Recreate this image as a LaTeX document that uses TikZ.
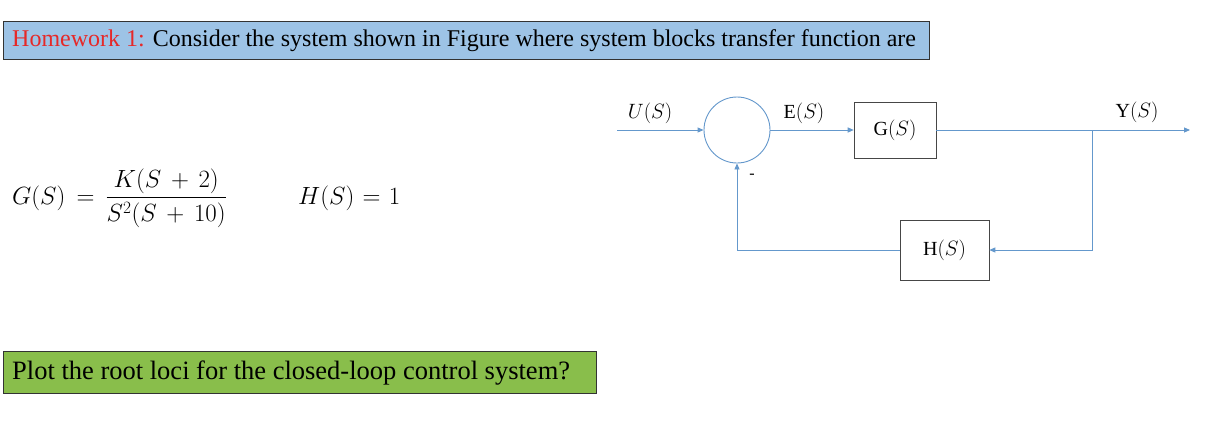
\documentclass[tikz,border=0pt]{standalone}
\usepackage{amsmath}
\usepackage{fontspec}
\setmainfont{Liberation Serif}
\usetikzlibrary{arrows.meta}
\definecolor{topblue}{RGB}{157,195,230}
\definecolor{botgreen}{RGB}{137,190,75}
\definecolor{hwred}{RGB}{230,40,40}
\definecolor{linec}{RGB}{100,152,204}
\definecolor{boxc}{RGB}{70,70,70}
\tikzset{
  blockbox/.style={draw=boxc, line width=0.6pt, fill=white, inner sep=0pt},
  sig/.style={draw=linec, line width=0.9pt},
  sigarr/.style={sig, -{Triangle[length=6pt,width=5pt]}},
  lbl/.style={font=\fontsize{20}{22}\selectfont, inner sep=0pt},
  eqn/.style={anchor=west, inner sep=0pt, font=\fontsize{26}{28}\selectfont},
}
\begin{document}
\begin{tikzpicture}[x=1pt,y=-1pt]
\useasboundingbox (0,0) rectangle (1217,431);
\fill[white] (0,0) rectangle (1217,431);
% banners
\draw[black!80, line width=0.8pt, fill=topblue] (3,21) rectangle (929,59);
\node[anchor=west, inner sep=0pt, font=\fontsize{24}{26}\selectfont] (title) at (12,40.5) {\textcolor{hwred}{Homework 1:} Consider the system shown in Figure where system blocks transfer function are};
\draw[black!80, line width=0.8pt, fill=botgreen] (3,351) rectangle (596,393);
\node[anchor=west, inner sep=0pt, font=\fontsize{26.5}{28}\selectfont] (question) at (12,373) {Plot the root loci for the closed-loop control system?};
% equations
\node[eqn] (geq) at (12,198) {\thickmuskip=8mu\medmuskip=7mu$G(S)=\dfrac{K(S+2)}{S^2(S+10)}$};
\node[eqn] (heq) at (298,198) {\thickmuskip=6mu$H(S)=1$};
% block diagram
\node[circle, draw=linec, line width=0.9pt, minimum size=66pt, inner sep=0pt] (sum) at (737,130) {};
\node[blockbox, minimum width=82pt, minimum height=56pt] (G) at (895,130) {};
\node[lbl] at (G.center) {$\mathrm{G}(S)$};
\node[blockbox, minimum width=89pt, minimum height=60pt] (H) at (944.5,250) {};
\node[lbl] at (H.center) {$\mathrm{H}(S)$};
\coordinate (in) at (617,130);
\coordinate (out) at (1190,130);
\coordinate (br) at (1092,130);
\coordinate (brd) at (1092,250);
\coordinate (fb) at (737,250);
\draw[sigarr] (in) -- (sum.west);
\draw[sigarr] (sum.east) -- (G.west);
\draw[sigarr] (G.east) -- (out);
\draw[sigarr] (br) -- (brd) -- (H.east);
\draw[sigarr] (H.west) -- (fb) -- (sum.south);
\node[lbl] (ulbl) at (650,113) {$U(S)$};
\node[lbl] (elbl) at (804,113) {$\mathrm{E}(S)$};
\node[lbl] (ylbl) at (1137,112) {$\mathrm{Y}(S)$};
\node[lbl, font=\fontsize{16}{18}\selectfont] (minus) at (752,176) {-};
\end{tikzpicture}
\end{document}
